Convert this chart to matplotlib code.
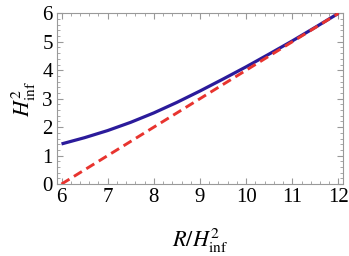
import matplotlib
matplotlib.use("Agg")
import matplotlib.pyplot as plt
from matplotlib.ticker import MultipleLocator

# Data
x_curve = [6.0, 6.5, 7.0, 7.5, 8.0, 8.5, 9.0, 9.5, 10.0, 10.5, 11.0, 11.5, 12.0]
h2_curve = [1.41, 1.63, 1.88, 2.17, 2.50, 2.87, 3.27, 3.69, 4.12, 4.57, 5.03, 5.51, 6.0]
x_line = [6.0, 12.0]
h2_line = [0.0, 6.0]
xticks = [6, 7, 8, 9, 10, 11, 12]
yticks = [0, 1, 2, 3, 4, 5, 6]

plt.rcParams['font.family'] = ['Liberation Serif', 'DejaVu Serif']
plt.rcParams['mathtext.fontset'] = 'stix'

fig = plt.figure(figsize=(3.49, 2.56), dpi=100)
ax = fig.add_axes([0.163, 0.281, 0.820, 0.667])

ax.plot(x_curve, h2_curve, color='#2b1b9b', lw=2.3, solid_capstyle='butt', zorder=3)
ax.plot(x_line, h2_line, color='#e8342f', lw=2.1, dashes=(3.2, 1.8), zorder=4)

ax.set_xlim(5.9, 12.1)
ax.set_ylim(0, 6)
ax.set_xticks(xticks)
ax.set_yticks(yticks)
ax.xaxis.set_minor_locator(MultipleLocator(0.2))
ax.yaxis.set_minor_locator(MultipleLocator(0.2))
ax.tick_params(which='both', direction='in', top=True, right=True, color='#999999')
ax.tick_params(which='major', length=4, width=0.8, labelsize=15, pad=3)
ax.tick_params(which='minor', length=2, width=0.6)
for s in ax.spines.values():
    s.set_color('#999999')
    s.set_linewidth(0.8)

ax.set_xlabel(r'$R/H^2_{\rm inf}$', fontsize=16, labelpad=14)
ax.set_ylabel(r'$H^2_{\rm inf}$', fontsize=16, labelpad=3)

fig.savefig('out.png', dpi=100)
